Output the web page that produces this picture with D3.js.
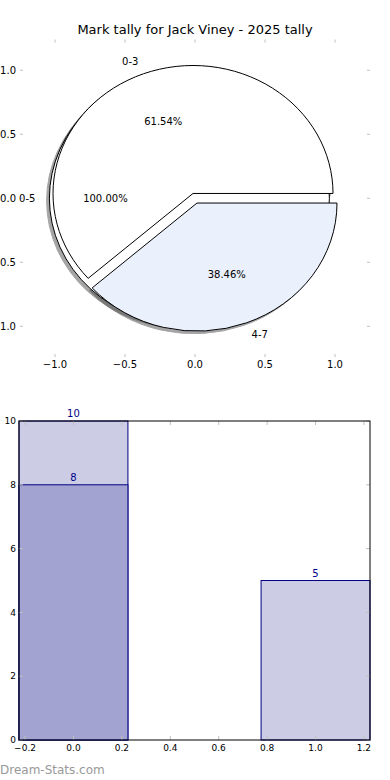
<!DOCTYPE html>
<html>
<head>
<meta charset="utf-8">
<script src="https://cdn.jsdelivr.net/npm/d3@7"></script>
<style>
  html, body { margin: 0; padding: 0; background: #fff; }
  svg { display: block; font-family: "DejaVu Sans", sans-serif; }
</style>
</head>
<body>
<svg id="chart" width="390" height="780"></svg>
<script>
// ---- data ----
const chartTitle = "Mark tally for Jack Viney - 2025 tally";
const outerPieLabels = ["0-5"];
const outerPieValues = [13];
const innerPieLabels = ["0-3", "4-7"];
const innerPieValues = [8, 5];
const innerPieColors = ["#ffffff", "#eaf0fc"];
const outerPieColors = ["#ffffff"];
const pieTicks = [-1.0, -0.5, 0.0, 0.5, 1.0];

const barCategories = [0, 1];
const barLightValues = [10, 5];
const barDarkValues = [8, null];
const barXTicks = [-0.2, 0.0, 0.2, 0.4, 0.6, 0.8, 1.0, 1.2];
const barYTicks = [0, 2, 4, 6, 8, 10];
const watermark = "Dream-Stats.com";

const svg = d3.select("#chart");
const fmtTick = d => d3.format(".1f")(d).replace("-", "\u2212");

// ---- title ----
svg.append("text").attr("x", 195).attr("y", 34).attr("text-anchor", "middle")
  .attr("font-size", 13).attr("fill", "#000").text(chartTitle);

// ---- pie axes ----
const px = d3.scaleLinear().domain([-1.25, 1.25]).range([20, 370]);
const py = d3.scaleLinear().domain([-1.24, 1.24]).range([357, 39.5]);
const sx = px(1) - px(0), sy = py(0) - py(1);
const tickGray = "#c0c0c0";
const pieG = svg.append("g");
// ticks
pieTicks.forEach(t => {
  pieG.append("line").attr("x1", px(t)).attr("x2", px(t)).attr("y1", 39.5).attr("y2", 42.5).attr("stroke", tickGray);
  pieG.append("line").attr("x1", px(t)).attr("x2", px(t)).attr("y1", 357).attr("y2", 354).attr("stroke", tickGray);
  pieG.append("line").attr("y1", py(t)).attr("y2", py(t)).attr("x1", 20).attr("x2", 23).attr("stroke", tickGray);
  pieG.append("line").attr("y1", py(t)).attr("y2", py(t)).attr("x1", 370).attr("x2", 367).attr("stroke", tickGray);
  pieG.append("text").attr("x", px(t)).attr("y", 368).attr("text-anchor", "middle").attr("font-size", 10).text(fmtTick(t));
  pieG.append("text").attr("x", 16).attr("y", py(t)).attr("dy", "0.35em").attr("text-anchor", "end").attr("font-size", 10).text(fmtTick(t));
});

// pie slices, matplotlib-style angles (deg, ccw from 3 o'clock)
const explode = 0.04;
function buildSlices(values, labels, colors) {
  const total = d3.sum(values);
  let a = 0;
  return values.map((v, i) => {
    const t1 = a, t2 = a + 360 * v / total;
    a = t2;
    const mid = (t1 + t2) / 2 * Math.PI / 180;
    return {
      t1, t2, mid, label: labels[i], color: colors[i],
      pct: (100 * v / total).toFixed(2) + "%",
      cx: explode * Math.cos(mid), cy: explode * Math.sin(mid)
    };
  });
}
const outerSlices = buildSlices(outerPieValues, outerPieLabels, outerPieColors);
const innerSlices = buildSlices(innerPieValues, innerPieLabels, innerPieColors);
const allSlices = outerSlices.concat(innerSlices);

function slicePath(s) {
  const full = Math.abs(s.t2 - s.t1 - 360) < 1e-9;
  if (full) {
    return d3.arc().innerRadius(0).outerRadius(1).startAngle(0).endAngle(2 * Math.PI)();
  }
  return d3.arc().innerRadius(0).outerRadius(1)
    .startAngle(Math.PI / 2 - s.t1 * Math.PI / 180)
    .endAngle(Math.PI / 2 - s.t2 * Math.PI / 180)();
}
function sliceTransform(s, ox, oy) {
  return `translate(${px(s.cx + ox)},${py(s.cy + oy)}) scale(${sx},${sy})`;
}
// shadows first (lower z-order)
allSlices.forEach(s => {
  pieG.append("path").attr("d", slicePath(s))
    .attr("transform", sliceTransform(s, -0.02, -0.02))
    .attr("fill", "#4d4d4d").attr("stroke", "#4d4d4d").attr("stroke-width", 1)
    .attr("vector-effect", "non-scaling-stroke").attr("opacity", 0.5);
});
allSlices.forEach(s => {
  pieG.append("path").attr("d", slicePath(s))
    .attr("transform", sliceTransform(s, 0, 0))
    .attr("fill", s.color).attr("stroke", "#000").attr("stroke-width", 1)
    .attr("vector-effect", "non-scaling-stroke");
});
allSlices.forEach(s => {
  const lx = s.cx + 1.1 * Math.cos(s.mid), ly = s.cy + 1.1 * Math.sin(s.mid);
  pieG.append("text").attr("x", px(lx)).attr("y", py(ly)).attr("dy", "0.35em")
    .attr("text-anchor", lx < s.cx - 1e-9 ? "end" : "start").attr("font-size", 10).text(s.label);
  const tx = s.cx + 0.6 * Math.cos(s.mid), ty = s.cy + 0.6 * Math.sin(s.mid);
  pieG.append("text").attr("x", px(tx)).attr("y", py(ty)).attr("dy", "0.35em")
    .attr("text-anchor", "middle").attr("font-size", 10).text(s.pct);
});

// ---- bar chart ----
const bx = d3.scaleLinear().domain([-0.225, 1.225]).range([19, 370]);
const by = d3.scaleLinear().domain([0, 10]).range([740, 421]);
const barW = 0.45;
const barG = svg.append("g");
const navy = "#000080";
function drawBars(values, fill) {
  barCategories.forEach((c, i) => {
    const v = values[i];
    if (v == null) return;
    barG.append("rect").attr("x", bx(c - barW / 2)).attr("y", by(v))
      .attr("width", bx(c + barW / 2) - bx(c - barW / 2)).attr("height", by(0) - by(v))
      .attr("fill", fill).attr("stroke", navy).attr("stroke-width", 1);
  });
}
function drawLabels(values) {
  barCategories.forEach((c, i) => {
    const v = values[i];
    if (v == null) return;
    barG.append("text").attr("x", bx(c)).attr("y", by(v) - 4).attr("text-anchor", "middle")
      .attr("font-size", 10).attr("fill", "#00008b").text(v);
  });
}
drawBars(barLightValues, "#ccccE5");
drawBars(barDarkValues, "#a3a3d1");
// ticks inside
barXTicks.forEach(t => {
  barG.append("line").attr("x1", bx(t)).attr("x2", bx(t)).attr("y1", 421).attr("y2", 425).attr("stroke", tickGray);
  barG.append("line").attr("x1", bx(t)).attr("x2", bx(t)).attr("y1", 740).attr("y2", 736).attr("stroke", tickGray);
  barG.append("text").attr("x", bx(t)).attr("y", 751).attr("text-anchor", "middle")
    .attr("font-size", 9).text(fmtTick(t));
});
barYTicks.forEach(t => {
  barG.append("line").attr("y1", by(t)).attr("y2", by(t)).attr("x1", 19).attr("x2", 23).attr("stroke", tickGray);
  barG.append("line").attr("y1", by(t)).attr("y2", by(t)).attr("x1", 370).attr("x2", 366).attr("stroke", tickGray);
  barG.append("text").attr("x", 16).attr("y", by(t)).attr("dy", "0.35em").attr("text-anchor", "end")
    .attr("font-size", 9).text(t);
});
// spines
barG.append("rect").attr("x", 19).attr("y", 421).attr("width", 351).attr("height", 319)
  .attr("fill", "none").attr("stroke", "#000").attr("stroke-width", 1);
drawLabels(barLightValues);
drawLabels(barDarkValues);

// ---- watermark ----
svg.append("text").attr("x", 0).attr("y", 774).attr("font-size", 12)
  .attr("fill", "#999").text(watermark);
</script>
</body>
</html>
